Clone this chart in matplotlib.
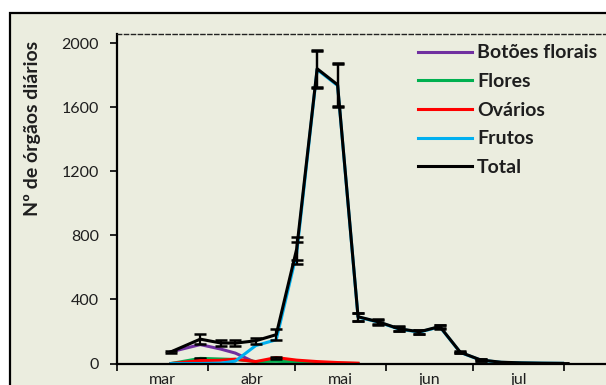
import numpy as np
import matplotlib
matplotlib.use("Agg")
import matplotlib.pyplot as plt
import matplotlib.dates as mdates
from matplotlib.patches import Rectangle

plt.rcParams['font.family'] = ['Lato', 'DejaVu Sans']

# Sampling dates (weekly after early April)
dates = ["2013-03-19", "2013-03-29", "2013-04-05", "2013-04-10", "2013-04-17",
         "2013-04-24", "2013-05-01", "2013-05-08", "2013-05-15", "2013-05-22",
         "2013-05-29", "2013-06-05", "2013-06-12", "2013-06-19", "2013-06-26",
         "2013-07-03", "2013-07-10", "2013-07-17", "2013-07-24", "2013-07-31"]

nan = np.nan
botoes = [73, 118, 90, 65, 5] + [nan] * 15
flores = [0, 32, 28, 25, 12, 14, 10, 5, 2, 0] + [nan] * 10
ovarios = [0, 18, 20, 27, 12, 37, 21, 12, 6, 2] + [nan] * 10
frutos = [0, 0, 2, 15, 112, 148, 688, 1835, 1735, 290,
          258, 215, 196, 229, 69, 21, 7, 4, 2, 1]
total = [73, 152, 128, 127, 142, 180, 715, 1840, 1740, 292,
         260, 217, 198, 231, 70, 22, 8, 4, 2, 1]

err_flores = [0, 5, 0, 0, 0, 0, 0, 0, 0, 0] + [nan] * 10
err_ovarios = [0, 0, 0, 0, 0, 6, 0, 0, 0, 0] + [nan] * 10
err_frutos = [0, 0, 0, 0, 0, 0, 70, 115, 135, 25,
              15, 15, 12, 12, 5, 5, 2, 1, 1, 1]
err_total = [8, 30, 20, 20, 18, 35, 72, 115, 135, 25,
             15, 15, 12, 12, 5, 5, 2, 1, 1, 1]

labels = ["Botões florais", "Flores", "Ovários", "Frutos", "Total"]
colors = ["#7030A0", "#00B050", "#FF0000", "#00B0F0", "#000000"]
month_names = ["mar", "abr", "mai", "jun", "jul"]
y_ticks = [0, 400, 800, 1200, 1600, 2000]

W, H = 606, 385
fig = plt.figure(figsize=(W / 100, H / 100), dpi=100)
fig.patch.set_facecolor("white")

# chart area frame, kept behind the axes
frame = Rectangle((10 / W, -0.1), 1.2, 1 - 13.3 / H + 0.1,
                  transform=fig.transFigure, facecolor="#EBEDDF",
                  edgecolor="black", linewidth=1.6, zorder=-10)
fig.patches.append(frame)

ax = fig.add_axes([117 / W, 21.5 / H, 537.6 / W, 329.2 / H])
ax.set_facecolor("none")

x = mdates.datestr2num(dates) + 0.5
series = [botoes, flores, ovarios, frutos, total]
errors = [None, err_flores, err_ovarios, err_frutos, err_total]

for vals, err, col, lab in zip(series, errors, colors, labels):
    vals = np.array(vals, dtype=float)
    ax.plot(x, vals, color=col, lw=2.2, label=lab, solid_joinstyle="round")
    if err is not None:
        e = np.array(err, dtype=float)
        m = ~np.isnan(vals) & (np.nan_to_num(e) > 0)
        ax.errorbar(x[m], vals[m], yerr=e[m], fmt="none", ecolor="black",
                    elinewidth=1.6, capsize=4.5, capthick=1.8)

x0 = mdates.datestr2num("2013-03-01")
x1 = mdates.datestr2num("2013-09-01")
ax.set_xlim(x0, x1)
ax.set_ylim(0, 2055)

month_starts = mdates.datestr2num(["2013-03-01", "2013-04-01", "2013-05-01",
                                   "2013-06-01", "2013-07-01", "2013-08-01"])
ax.set_xticks(month_starts)
ax.set_xticklabels([])
mids = (month_starts[:-1] + month_starts[1:]) / 2
ax.set_xticks(mids, minor=True)
ax.set_xticklabels(month_names, minor=True)
ax.tick_params(axis="x", which="major", direction="out", length=5,
               width=1.2, color="black")
ax.tick_params(axis="x", which="minor", length=0, pad=6.5,
               labelsize=11.5, labelcolor="#1E1E1E")

ax.set_yticks(y_ticks)
ax.tick_params(axis="y", direction="out", length=5, width=1.2, pad=8,
               labelsize=11.5, labelcolor="#1E1E1E")

for s in ["left", "bottom"]:
    ax.spines[s].set_linewidth(1.6)
    ax.spines[s].set_color("black")
ax.spines["right"].set_visible(False)
ax.spines["top"].set_linestyle((0, (3, 2)))
ax.spines["top"].set_linewidth(1.0)
ax.spines["top"].set_color("#222222")

fig.text(33 / W, 1 - 128 / H, "Nº de órgãos diários", rotation=90,
         ha="center", va="center", fontsize=14, fontweight="bold",
         color="#1E1E1E")

leg = ax.legend(loc="upper left", bbox_to_anchor=(418 / W, 1 - 44.5 / H),
                bbox_transform=fig.transFigure, frameon=False, borderpad=0,
                borderaxespad=0, handlelength=2.78, handletextpad=0.26,
                labelspacing=0.6, prop={"weight": "bold", "size": 14})
for t in leg.get_texts():
    t.set_color("#1E1E1E")

fig.savefig("out.png", dpi=100)
